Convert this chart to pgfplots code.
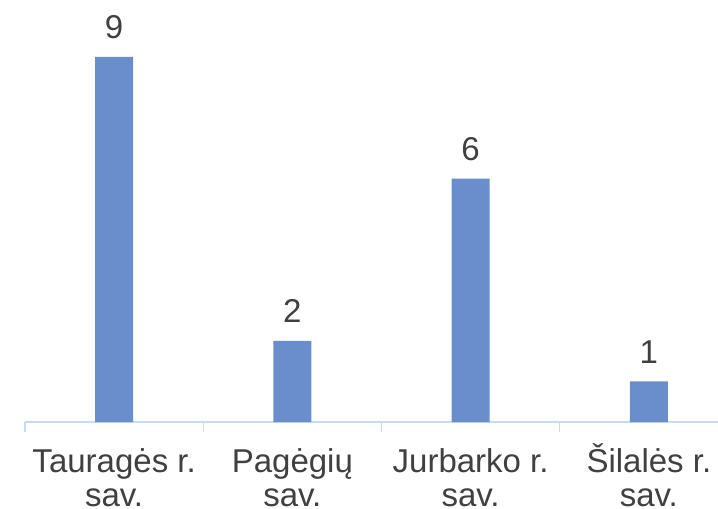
\documentclass[border=0pt]{standalone}
\usepackage{fontspec}
\setmainfont{Liberation Sans}
\usepackage{pgfplots}
\pgfplotsset{compat=1.18}
\definecolor{barblue}{HTML}{6A8ECB}
\definecolor{axisblue}{HTML}{C9DAF0}
\definecolor{txt}{HTML}{404040}

\begin{document}
\begin{tikzpicture}
  \useasboundingbox (0pt,0pt) rectangle (718pt,509pt);
  \clip (0pt,0pt) rectangle (718pt,509pt);
  \begin{axis}[
    at={(25pt,87pt)}, anchor=south west,
    scale only axis, width=713pt, height=385.3pt,
    xmin=-0.5, xmax=3.5, ymin=0, ymax=9.5,
    axis x line*=bottom, axis y line=none,
    ytick=\empty,
    xtick={0,1,2,3},
    xticklabels={Tauragės r.\\sav., Pagėgių\\sav., Jurbarko r.\\sav., Šilalės r.\\sav.},
    major tick length=0pt,
    minor xtick={-0.5,0.5,1.5,2.5,3.5},
    minor tick length=10pt,
    tick align=outside,
    every tick/.style={axisblue, line width=1.3pt},
    axis line style={axisblue, line width=1.3pt},
    xticklabel style={font=\fontsize{33}{34}\selectfont, text=txt, align=center,
      anchor=base, inner sep=0pt, yshift=-84pt},
    ybar, bar width=38pt,
    nodes near coords={\pgfmathprintnumber[assume math mode=true]{\pgfplotspointmeta}},
    every node near coord/.append style={font=\fontsize{33}{34}\selectfont, text=txt,
      anchor=south, inner sep=0pt, yshift=18pt},
  ]
    % Taurages 9, Pagegiu 2, Jurbarko 6, Silales 1
    \addplot[fill=barblue, draw=none] coordinates {(0,9) (1,2) (2,6) (3,1)};
  \end{axis}
\end{tikzpicture}
\end{document}
